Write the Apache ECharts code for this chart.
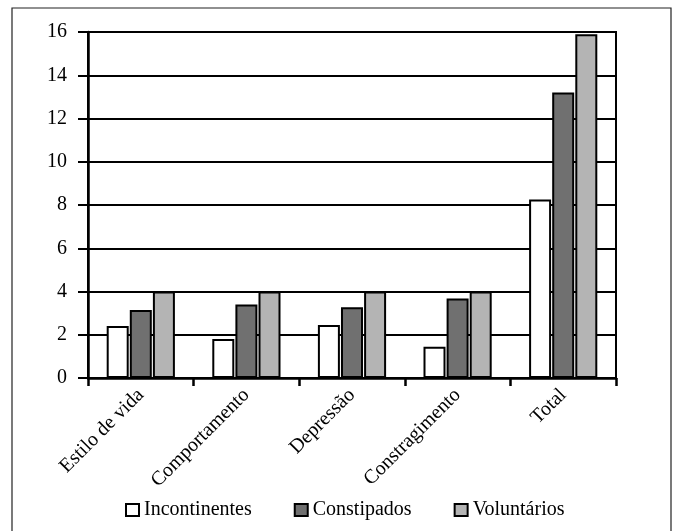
<!DOCTYPE html>
<html>
<head>
<meta charset="utf-8">
<script src="https://cdn.jsdelivr.net/npm/echarts@6/dist/echarts.min.js"></script>
<style>html,body{margin:0;padding:0;background:#fff;}#c{width:675px;height:531px;}</style>
</head>
<body>
<div id="c"></div>
<script>
const categories = ['Estilo de vida', 'Comportamento', 'Depressão', 'Constragimento', 'Total'];
const incontinentes = [2.4, 1.8, 2.45, 1.45, 8.25];
const constipados = [3.15, 3.4, 3.27, 3.68, 13.2];
const voluntarios = [4.0, 4.0, 4.0, 4.0, 15.9];
const yTicks = [0, 2, 4, 6, 8, 10, 12, 14, 16];

const FONT = 'Liberation Serif';
const chart = echarts.init(document.getElementById('c'), null, {renderer: 'canvas'});
const barStyle = (c) => ({color: c, borderColor: '#000', borderWidth: 2});
chart.setOption({
  animation: false,
  backgroundColor: '#fff',
  textStyle: {fontFamily: FONT},
  graphic: [{
    type: 'rect', shape: {x: 12, y: 8, width: 659, height: 540},
    style: {fill: 'none', stroke: '#222', lineWidth: 1.2}, silent: true, z: -1
  }],
  grid: {left: 88, right: 59, top: 32, bottom: 153, show: true, borderColor: '#000', borderWidth: 2, backgroundColor: 'transparent'},
  legend: {
    left: 125, top: 500, padding: 0, itemWidth: 13, itemHeight: 12, itemGap: 42, icon: 'rect',
    textStyle: {fontFamily: FONT, fontSize: 20, color: '#000'},
    data: ['Incontinentes', 'Constipados', 'Voluntários']
  },
  xAxis: {
    type: 'category', data: categories,
    axisLine: {lineStyle: {color: '#000', width: 2.5}},
    axisTick: {show: true, length: 8, lineStyle: {color: '#000', width: 2.5}},
    axisLabel: {rotate: 45, fontFamily: FONT, fontSize: 20, color: '#000', margin: 14, interval: 0}
  },
  yAxis: {
    type: 'value', min: 0, max: 16, interval: 2,
    axisLine: {show: true, lineStyle: {color: '#000', width: 2.5}},
    axisTick: {show: true, length: 10, lineStyle: {color: '#000', width: 2}},
    splitLine: {lineStyle: {color: '#000', width: 2}},
    axisLabel: {fontFamily: FONT, fontSize: 20, color: '#000', margin: 21,
      formatter: (v) => yTicks.includes(v) ? String(v) : ''}
  },
  series: [
    {name: 'Incontinentes', type: 'bar', data: incontinentes, barWidth: 22, barGap: '5%', itemStyle: barStyle('#ffffff')},
    {name: 'Constipados', type: 'bar', data: constipados, barWidth: 22, barGap: '5%', itemStyle: barStyle('#707070')},
    {name: 'Voluntários', type: 'bar', data: voluntarios, barWidth: 22, barGap: '5%', itemStyle: barStyle('#b4b4b4')}
  ]
});
</script>
</body>
</html>
